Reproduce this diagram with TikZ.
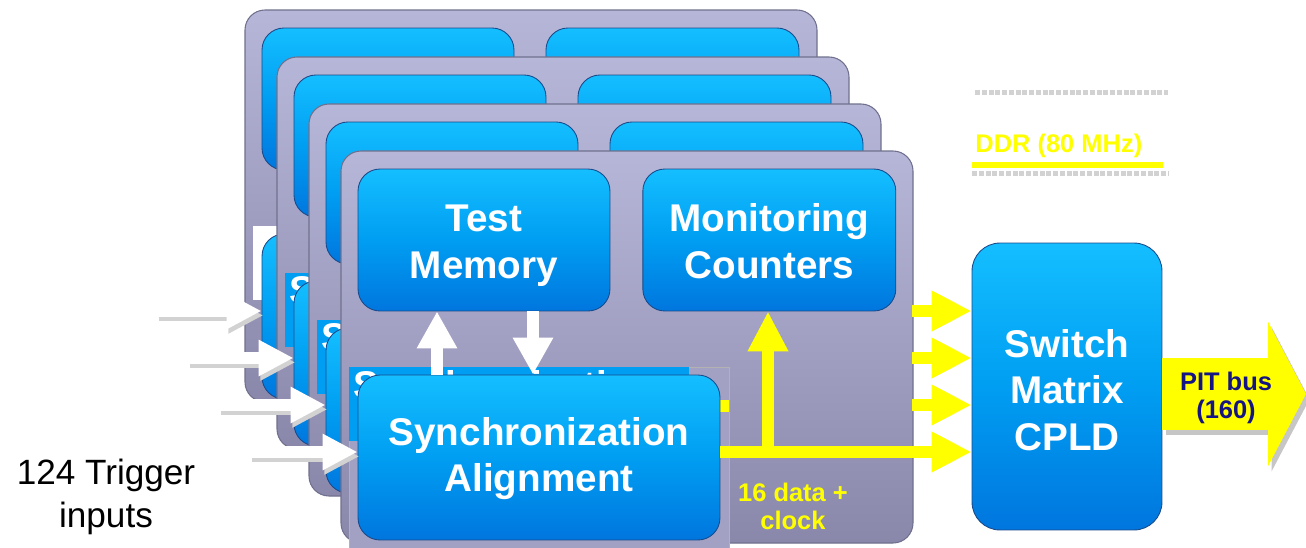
\documentclass[tikz,border=0pt]{standalone}
\usepackage{fontspec}
\setmainfont{Liberation Sans}
\usetikzlibrary{arrows.meta,positioning}
\definecolor{cardtop}{RGB}{182,182,216}
\definecolor{cardbot}{RGB}{138,136,170}
\definecolor{cardedge}{RGB}{112,112,142}
\definecolor{unittop}{RGB}{20,190,255}
\definecolor{unitmid}{RGB}{0,158,242}
\definecolor{unitbot}{RGB}{0,118,222}
\definecolor{unitedge}{RGB}{25,75,140}
\definecolor{busyellow}{RGB}{255,255,0}
\definecolor{pitnavy}{RGB}{20,20,130}
\newcommand\unitfont{\bfseries\fontsize{22}{26.6}\selectfont}
\newcommand\busfont{\bfseries\fontsize{14.5}{16}\selectfont}
\newcommand\trigfont{\fontsize{20}{24.4}\selectfont}
\tikzset{
    card/.style={draw=cardedge, line width=0.6pt, top color=cardtop, bottom color=cardbot, rounded corners=0.4cm},
    unit/.style={draw=unitedge, line width=0.5pt, top color=unittop, bottom color=unitbot, middle color=unitmid, rounded corners=0.44cm, inner sep=0pt},
    unittext/.style={text=white, font=\unitfont, align=center, inner sep=0pt},
    striptext/.style={anchor=north west, inner sep=0pt, text=white, font=\unitfont},
    busarrow/.style={busyellow, line width=0.24cm, -{Triangle[length=0.8cm,width=0.76cm]}},
    pitarrow/.style={busyellow, line width=1.44cm, -{Triangle[length=0.76cm,width=2.86cm]}},
    whitearrow/.style={white, line width=0.24cm, -{Triangle[length=0.74cm,width=0.76cm]}},
    trigger/.style={white, line width=0.24cm, -{Triangle[length=0.7cm,width=0.68cm]}},
    smalltext/.style={text=busyellow, font=\busfont, inner sep=0pt},
  }

\begin{document}
\begin{tikzpicture}[x=0.02cm, y=-0.02cm]
    \useasboundingbox (0,0) rectangle (1306,548);

    %% cards behind
    \foreach \k in {0,1,2} {
      \begin{scope}[shift={(32*\k,47*\k)}]
        \path[card] (245,10) rectangle (817,402);
        \path[unit] (262,28) rectangle (514,170);
        \path[unit] (546,28) rectangle (799,170);
        \ifnum\k=0
          \fill[white] (253,226) rectangle (593,300);
        \else
          \fill[unitmid] (253,226) rectangle (593,300);
          \node[striptext] at (257,229) {S};
        \fi
        \node[unit, minimum width=7.24cm, minimum height=3.3cm] (sync\k) at (443,316.5) {};
      \end{scope}
    }

    %% front card
    \path[card] (341,151) rectangle (913,543);
    \draw[gray!60, fill=cardtop!55!cardbot] (349,367) rectangle (729,548);
    \fill[unitmid] (349,367) rectangle (689,441);
    \node[striptext] at (353,370) {Synchronization};
    \draw[busyellow, line width=0.24cm] (700,406) -- (729,406);

    \node[unit, minimum width=5.04cm, minimum height=2.84cm] (tm) at (484,240) {};
    \node[unit, minimum width=5.06cm, minimum height=2.84cm, right=0.64cm of tm] (mc) {};
    \node[unit, minimum width=7.24cm, minimum height=3.3cm] (sync3) at (539,457.5) {};
    \node[unittext] (tmtext) at ([yshift=-0.12cm]tm.center) {Test\\Memory};
    \node[unittext] (mctext) at ([yshift=-0.02cm]mc.center) {Monitoring\\Counters};
    \node[unittext] (synctext) at ([yshift=-0.02cm]sync3.center) {Synchronization\\Alignment};

    %% test memory <-> sync
    \coordinate (up) at (437,340);
    \coordinate (dn) at (533,340);
    \draw[whitearrow] (up |- sync3.north) -- (up |- tm.south);
    \draw[whitearrow] (dn |- tm.south) -- (dn |- sync3.north);

    %% switch matrix
    \node[unit, minimum width=3.8cm, minimum height=5.74cm, rounded corners=0.56cm] (sw) at (1067,386.5) {};
    \node[unittext] (swtext) at ([yshift=-0.07cm]sw.center) {Switch\\Matrix\\CPLD};

    %% data lines
    \coordinate (tap) at (768,452);
    \draw[busarrow] (sync3.east |- tap) -- (tap -| sw.west);
    \draw[busarrow] (tap) -- (tap |- mc.south);
    \foreach \i in {0,1,2} {
      \coordinate (out\i) at (912,311+47*\i);
      \draw[busarrow] (out\i) -- (out\i -| sw.west);
    }
    \node[smalltext, align=center] (dlabel) at (793,506) {16 data +\\clock};

    %% PIT bus
    \coordinate (pitend) at (1306,394);
    \draw[pitarrow, gray!45, transform canvas={xshift=2pt,yshift=-3pt}] (sw.east |- pitend) -- (pitend);
    \draw[pitarrow] (sw.east |- pitend) -- (pitend);
    \node[text=pitnavy, font=\busfont, align=center, inner sep=0pt] (pit) at (1226,398) {PIT bus\\(160)};

    %% legend
    \coordinate (legA) at (975,92);
    \coordinate (legB) at (1168,92);
    \coordinate (ddrA) at (972,165);
    \coordinate (ddrB) at (1163,165);
    \draw[gray!35, line width=0.1cm, densely dotted] (legA) -- (legB);
    \draw[gray!35, line width=0.1cm, densely dotted] ([yshift=-0.16cm]ddrA) -- ([yshift=-0.16cm]legB |- ddrB);
    \draw[busyellow, line width=0.12cm] (ddrA) -- (ddrB);
    \node[smalltext, anchor=base west] (ddr) at (975,152) {DDR (80 MHz)};

    %% trigger inputs
    \foreach \k in {0,...,3} {
      \coordinate (in\k) at (157+31*\k,311+47*\k);
      \draw[trigger, gray!35, transform canvas={xshift=1pt,yshift=-2.5pt}] (in\k) -- (in\k -| sync\k.west);
      \draw[trigger] (in\k) -- (in\k -| sync\k.west);
    }
    \node[font=\trigfont, align=center, inner sep=0pt] (trig) at (106,497) {124 Trigger\\inputs};
\end{tikzpicture}
\end{document}
